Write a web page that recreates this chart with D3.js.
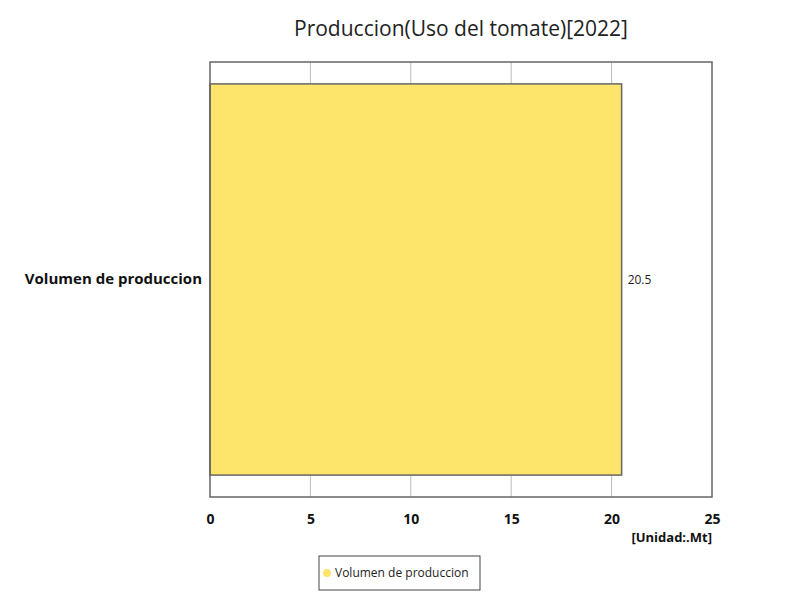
<!DOCTYPE html>
<html>
<head>
<meta charset="utf-8">
<script src="https://cdn.jsdelivr.net/npm/d3@7"></script>
<style>
  body { margin: 0; background: #fff; }
  text { font-family: "Open Sans", "Noto Sans", sans-serif; }
</style>
</head>
<body>
<svg id="chart" width="800" height="600"></svg>
<script>
const categories = ['Volumen de produccion'];
const values = [20.5];
const xTicks = [0, 5, 10, 15, 20, 25];
const seriesName = 'Volumen de produccion';
const title = 'Produccion(Uso del tomate)[2022]';
const unitLabel = '[Unidad:.Mt]';

const margin = { top: 62, right: 88, bottom: 103, left: 210 };
const W = 800, H = 600;
const w = W - margin.left - margin.right;
const h = H - margin.top - margin.bottom;

const svg = d3.select('#chart');
const g = svg.append('g').attr('transform', `translate(${margin.left},${margin.top})`);

const x = d3.scaleLinear().domain([0, 25]).range([0, w]);
const y = d3.scaleBand().domain(categories).range([0, h]).paddingInner(0).paddingOuter(0.056);

// title
svg.append('text')
  .attr('x', margin.left + w / 2)
  .attr('y', 36)
  .attr('text-anchor', 'middle')
  .attr('font-size', 21)
  .attr('fill', '#222')
  .text(title);

// gridlines
g.selectAll('line.grid')
  .data(xTicks.slice(1, -1))
  .enter()
  .append('line')
  .attr('class', 'grid')
  .attr('x1', d => x(d))
  .attr('x2', d => x(d))
  .attr('y1', 0)
  .attr('y2', h)
  .attr('stroke', '#bbb')
  .attr('stroke-width', 1);

// bars
g.selectAll('rect.bar')
  .data(values)
  .enter()
  .append('rect')
  .attr('class', 'bar')
  .attr('x', x(0))
  .attr('y', (d, i) => y(categories[i]))
  .attr('width', d => x(d))
  .attr('height', y.bandwidth())
  .attr('fill', '#fde46b')
  .attr('stroke', '#666')
  .attr('stroke-width', 1.5);

// value labels
g.selectAll('text.val')
  .data(values)
  .enter()
  .append('text')
  .attr('class', 'val')
  .attr('x', d => x(d) + 6)
  .attr('y', (d, i) => y(categories[i]) + y.bandwidth() / 2)
  .attr('dy', '0.35em')
  .attr('font-size', 12)
  .attr('fill', '#222')
  .text(d => d);

// plot frame
g.append('rect')
  .attr('x', 0).attr('y', 0)
  .attr('width', w).attr('height', h)
  .attr('fill', 'none')
  .attr('stroke', '#666')
  .attr('stroke-width', 1.5);

// x axis
const xAxis = g.append('g')
  .attr('transform', `translate(0,${h})`)
  .call(d3.axisBottom(x).tickValues(xTicks).tickSize(0).tickPadding(17));
xAxis.select('.domain').remove();
xAxis.selectAll('text')
  .attr('font-size', 14)
  .attr('font-weight', 'bold')
  .attr('fill', '#111')
  .style('font-family', '"Open Sans", sans-serif');

// y axis
const yAxis = g.append('g')
  .call(d3.axisLeft(y).tickSize(0).tickPadding(8));
yAxis.select('.domain').remove();
yAxis.selectAll('text')
  .attr('font-size', 15)
  .attr('font-weight', 'bold')
  .attr('fill', '#111')
  .style('font-family', '"Open Sans", sans-serif');

// unit label
svg.append('text')
  .attr('x', margin.left + w)
  .attr('y', 542)
  .attr('text-anchor', 'end')
  .attr('font-size', 13)
  .attr('font-weight', 'bold')
  .attr('fill', '#111')
  .text(unitLabel);

// legend
const leg = svg.append('g').attr('transform', 'translate(319,556)');
leg.append('rect')
  .attr('width', 161).attr('height', 34)
  .attr('fill', '#fff')
  .attr('stroke', '#444')
  .attr('stroke-width', 1);
leg.append('circle')
  .attr('cx', 8).attr('cy', 17).attr('r', 4)
  .attr('fill', '#fde46b');
leg.append('text')
  .attr('x', 16).attr('y', 17)
  .attr('dy', '0.35em')
  .attr('font-size', 12)
  .attr('fill', '#222')
  .text(seriesName);
</script>
</body>
</html>
